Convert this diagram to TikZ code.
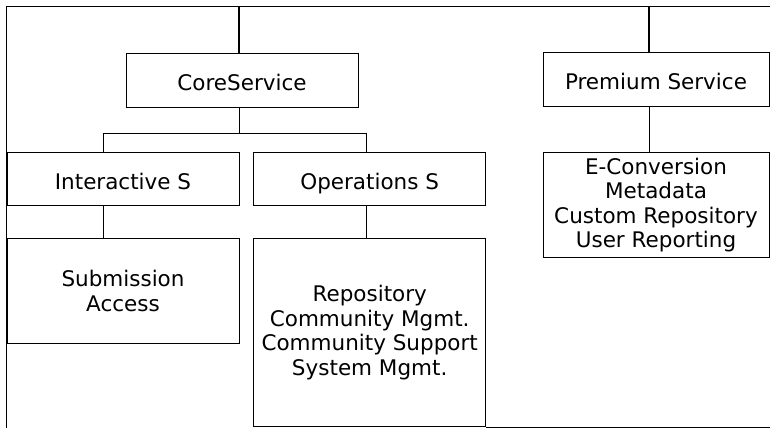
\documentclass[tikz,border=0pt]{standalone}
\usepackage{fontspec}
\setmainfont{DejaVu Sans}
\usetikzlibrary{positioning}

\begin{document}
\begin{tikzpicture}[x=1pt, y=-1pt,
		box/.style={draw, line width=0.7pt, minimum width=232pt, minimum height=53pt, inner sep=2pt, align=center, font=\fontsize{21.5}{24.5}\selectfont},
		oneline/.style={text height=21pt, text depth=0pt},
		link/.style={line width=0.7pt},
		trunk/.style={line width=1.4pt}]
	\useasboundingbox (0,0) rectangle (770,428);

	% frame
	\coordinate (tl) at (6,6);
	\coordinate (tr) at (770,6);
	\coordinate (bl) at (6,428);
	\draw[line width=0.9pt] (bl) -- (tl) -- (tr);

	% nodes
	\node[box, oneline, minimum height=54pt] (core) at (242,80) {CoreService};
	\node[box, oneline, minimum width=226pt, minimum height=54pt] (prem) at (656,79) {Premium Service};

	\node[box, oneline] (inter) at (123,178.5) {Interactive S};
	\node[box, oneline, right = 14pt of inter] (oper) {Operations S};

	\node[box, minimum height=105pt, below = 33pt of inter] (sub) {Submission\\Access};
	\node[box, minimum height=188pt, below = 33pt of oper] (opsub) {Repository\\Community Mgmt.\\Community Support\\System Mgmt.};
	\node[box, minimum width=226pt, minimum height=105pt, below = 46pt of prem] (premsub) {E-Conversion\\Metadata\\Custom Repository\\User Reporting};

	% edges
	\draw[trunk] ([xshift=-3pt]core.north) -- ([xshift=-3pt]core.north |- tl);
	\draw[trunk] ([xshift=-7pt]prem.north) -- ([xshift=-7pt]prem.north |- tl);

	\draw[link] ([xshift=-3pt]core.south) -- ++(0,26) -| ([xshift=-20pt]inter.north);
	\draw[link] ([xshift=-3pt]core.south) -- ++(0,26) -| ([xshift=-3pt]oper.north);

	\draw[link] ([xshift=-20pt]inter.south) -- ([xshift=-20pt]sub.north);
	\draw[link] ([xshift=-3pt]oper.south) -- ([xshift=-3pt]opsub.north);
	\draw[link] ([xshift=-7pt]prem.south) -- ([xshift=-7pt]premsub.north);

	\draw[line width=0.9pt] (opsub.south east) -- (opsub.south east -| tr);
\end{tikzpicture}
\end{document}
